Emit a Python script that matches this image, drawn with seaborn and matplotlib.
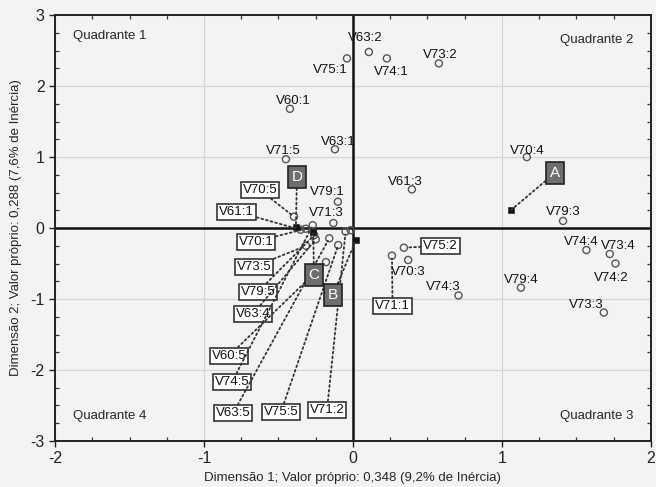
import matplotlib
matplotlib.use("Agg")
import matplotlib.pyplot as plt
from matplotlib.ticker import MultipleLocator
import pandas as pd
import seaborn as sns

# category points (dim 1, dim 2)
labels = ["V75:1", "V63:2", "V74:1", "V73:2", "V60:1", "V63:1", "V71:5", "V79:1",
          "V71:3", "V70:5", "V61:3", "V70:4", "V79:3", "V75:2", "V71:1", "V70:3",
          "V74:3", "V79:4", "V74:4", "V73:4", "V74:2", "V73:3", "V61:1", "V70:1",
          "V73:5", "V79:5", "V63:4", "V60:5", "V74:5", "V63:5", "V75:5", "V71:2", ""]
dim1 = [-0.04, 0.107, 0.228, 0.577, -0.423, -0.121, -0.45, -0.101,
        -0.131, -0.396, 0.396, 1.168, 1.411, 0.342, 0.262, 0.371,
        0.709, 1.128, 1.568, 1.725, 1.763, 1.685, -0.351, -0.317,
        -0.315, -0.26, -0.25, -0.181, -0.27, -0.159, -0.099, -0.049, -0.015]
dim2 = [2.39, 2.48, 2.39, 2.32, 1.68, 1.11, 0.97, 0.37,
        0.07, 0.16, 0.545, 1.0, 0.10, -0.277, -0.39, -0.45,
        -0.95, -0.84, -0.31, -0.366, -0.50, -1.19, -0.024, -0.01,
        -0.25, -0.10, -0.16, -0.48, 0.04, -0.145, -0.24, -0.05, -0.03]

# cluster centroids
groups = ["A", "B", "C", "D"]
group_dim1 = [1.06, 0.02, -0.266, -0.383]
group_dim2 = [0.25, -0.17, -0.05, 0.01]

# where the label texts sit
plain_pos = {
    "V75:1": (-0.154, 2.23), "V63:2": (0.08, 2.68), "V74:1": (0.26, 2.20),
    "V73:2": (0.584, 2.44), "V60:1": (-0.40, 1.79), "V63:1": (-0.10, 1.21),
    "V71:5": (-0.47, 1.08), "V79:1": (-0.175, 0.51), "V71:3": (-0.18, 0.21),
    "V61:3": (0.35, 0.65), "V70:4": (1.168, 1.08), "V79:3": (1.41, 0.225),
    "V70:3": (0.369, -0.62), "V74:3": (0.604, -0.83), "V79:4": (1.128, -0.73),
    "V74:4": (1.535, -0.20), "V73:4": (1.78, -0.25), "V74:2": (1.738, -0.70),
    "V73:3": (1.57, -1.08),
}
boxed_pos = {
    "V70:5": (-0.624, 0.535), "V61:1": (-0.78, 0.23), "V70:1": (-0.651, -0.19),
    "V73:5": (-0.664, -0.545), "V79:5": (-0.638, -0.90), "V63:4": (-0.671, -1.21),
    "V60:5": (-0.832, -1.80), "V74:5": (-0.812, -2.17), "V63:5": (-0.805, -2.61),
    "V75:5": (-0.483, -2.59), "V71:2": (-0.174, -2.56), "V75:2": (0.589, -0.25),
    "V71:1": (0.266, -1.10),
}
group_pos = {"A": (1.356, 0.775), "B": (-0.134, -0.944),
             "C": (-0.262, -0.66), "D": (-0.376, 0.72)}

df = pd.DataFrame({"label": labels, "d1": dim1, "d2": dim2})
gdf = pd.DataFrame({"group": groups, "d1": group_dim1, "d2": group_dim2})

sns.set_theme(style="ticks")
plt.rcParams["font.family"] = ["Liberation Sans", "DejaVu Sans"]
plt.rcParams["axes.unicode_minus"] = False
bg = "#f3f3f3"

fig = plt.figure(figsize=(6.56, 4.87), dpi=100, facecolor=bg)
ax = fig.add_axes([0.084, 0.0945, 0.908, 0.8745], facecolor=bg)

ax.set_xlim(-2, 2)
ax.set_ylim(-3, 3)
ax.xaxis.set_major_locator(MultipleLocator(1))
ax.yaxis.set_major_locator(MultipleLocator(1))
ax.xaxis.set_minor_locator(MultipleLocator(0.25))
ax.yaxis.set_minor_locator(MultipleLocator(0.25))
ax.grid(True, which="major", color="#d4d4d4", lw=0.9)
ax.set_axisbelow(True)
ax.tick_params(which="major", direction="out", length=4, width=1, labelsize=11.5, colors="#222")
ax.tick_params(which="minor", direction="in", length=3, width=0.9, top=True, right=True, colors="#333")
for s in ax.spines.values():
    s.set_color("#222")
    s.set_linewidth(1.4)

ax.axhline(0, color="#111", lw=1.8, zorder=1)
ax.axvline(0, color="#111", lw=1.8, zorder=1)

sns.scatterplot(data=df, x="d1", y="d2", marker="o", s=26, fc="none",
                edgecolor="#555", linewidth=1.0, ax=ax, zorder=3)
sns.scatterplot(data=gdf, x="d1", y="d2", marker="s", s=22, color="#111",
                edgecolor="#111", ax=ax, zorder=4)

for lab, x, y in zip(labels, dim1, dim2):
    if lab in plain_pos:
        tx, ty = plain_pos[lab]
        ax.text(tx, ty, lab, ha="center", va="center", fontsize=9.5, color="#111", zorder=5)
    elif lab in boxed_pos:
        ax.annotate(lab, xy=(x, y), xytext=boxed_pos[lab], ha="center", va="center",
                    fontsize=9.5, color="#111", zorder=5,
                    bbox=dict(boxstyle="square,pad=0.15", fc="white", ec="#333", lw=1.2),
                    arrowprops=dict(arrowstyle="-", linestyle=":", lw=1.3, color="#333",
                                    shrinkA=0, shrinkB=2))

for g, x, y in zip(groups, group_dim1, group_dim2):
    ax.annotate(g, xy=(x, y), xytext=group_pos[g], ha="center", va="center",
                fontsize=11, color="white", zorder=6,
                bbox=dict(boxstyle="square,pad=0.25", fc="#6e6e6e", ec="#222", lw=1.2),
                arrowprops=dict(arrowstyle="-", linestyle=":", lw=1.3, color="#333",
                                shrinkA=0, shrinkB=0))

ax.text(0.03, 0.965, "Quadrante 1", transform=ax.transAxes, ha="left", va="top", fontsize=9.5)
ax.text(0.97, 0.955, "Quadrante 2", transform=ax.transAxes, ha="right", va="top", fontsize=9.5)
ax.text(0.97, 0.045, "Quadrante 3", transform=ax.transAxes, ha="right", va="bottom", fontsize=9.5)
ax.text(0.03, 0.045, "Quadrante 4", transform=ax.transAxes, ha="left", va="bottom", fontsize=9.5)

ax.set_xlabel("Dimensão 1; Valor próprio: 0,348 (9,2% de Inércia)", fontsize=9.5, labelpad=4)
ax.set_ylabel("Dimensão 2; Valor próprio: 0,288 (7,6% de Inércia)", fontsize=9.5, labelpad=6)

fig.savefig("out.png", dpi=100, facecolor=bg)
